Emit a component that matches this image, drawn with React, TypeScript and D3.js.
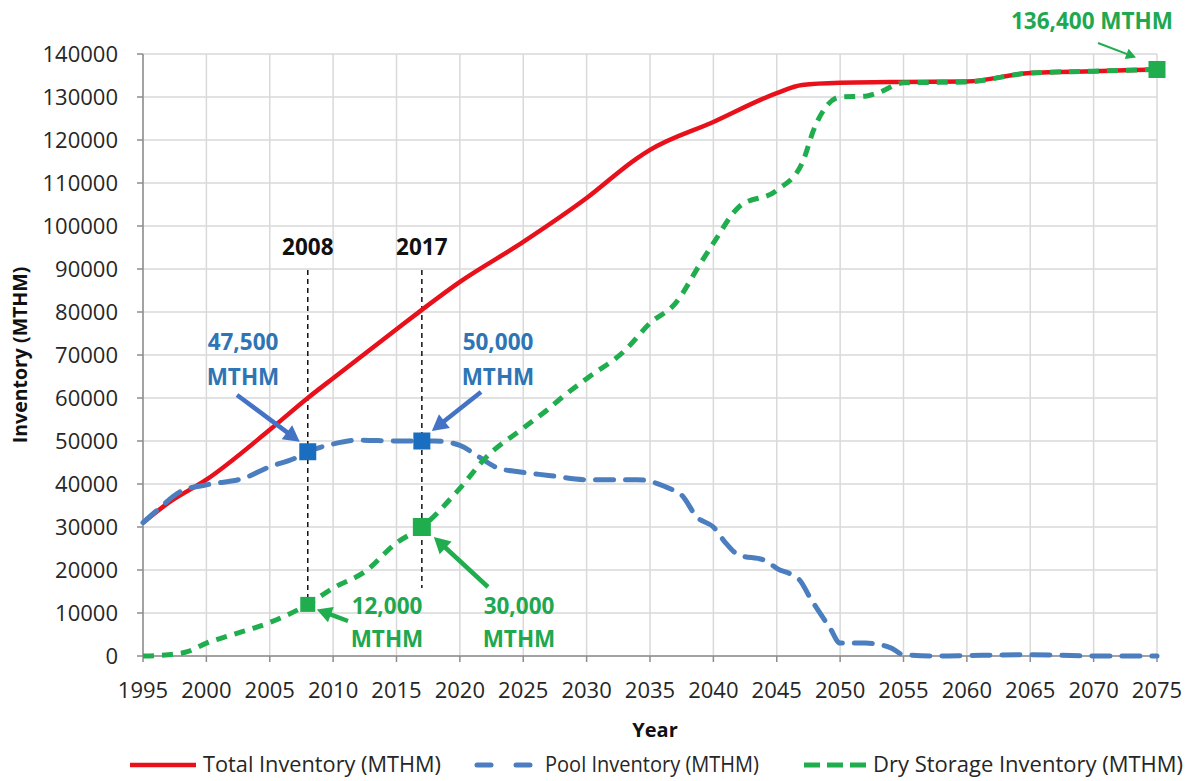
import React from "react";
import * as d3 from "d3";

const xTicks = [1995, 2000, 2005, 2010, 2015, 2020, 2025, 2030, 2035, 2040, 2045, 2050, 2055, 2060, 2065, 2070, 2075];
const yTicks = [0, 10000, 20000, 30000, 40000, 50000, 60000, 70000, 80000, 90000, 100000, 110000, 120000, 130000, 140000];

const totalYears = [1995, 1997, 2000, 2005, 2008, 2010, 2015, 2017, 2020, 2025, 2030, 2034, 2035, 2040, 2045, 2047, 2050, 2055, 2060, 2065, 2070, 2075];
const totalValues = [31000, 35600, 41000, 52600, 60000, 64600, 76000, 80500, 87000, 96300, 106500, 115800, 117700, 124200, 130900, 132800, 133300, 133500, 133600, 135600, 136000, 136400];

const poolYears = [1995, 1996, 1998, 2000, 2003, 2005, 2007, 2008, 2010, 2012, 2015, 2017, 2018, 2020, 2021.5, 2023, 2024.5, 2027, 2030, 2034, 2036.5, 2037.5, 2038.7, 2040, 2041, 2042, 2044, 2045, 2046.8, 2047.6, 2049.2, 2050, 2052, 2054, 2055, 2058, 2060, 2065, 2070, 2075];
const poolValues = [31000, 33600, 38300, 39800, 41400, 44000, 46000, 47500, 49300, 50200, 50000, 50000, 50000, 49000, 46300, 43700, 42900, 42000, 41000, 41000, 39000, 37400, 32300, 30000, 26200, 23500, 22300, 20400, 17700, 13700, 6500, 3000, 3000, 1900, 300, 0, 100, 300, 0, 0];

const dryYears = [1995, 1997, 1998.5, 2000, 2002, 2005, 2008, 2010, 2012.5, 2015, 2017, 2020, 2022, 2025, 2027, 2028, 2030, 2033, 2035, 2037, 2039, 2040, 2042, 2045, 2047, 2048, 2050, 2052, 2053, 2055, 2060, 2065, 2070, 2075];
const dryValues = [0, 300, 1000, 3000, 4900, 7800, 12000, 15800, 19600, 26300, 30000, 39000, 46000, 53000, 57500, 60000, 64500, 71000, 77400, 82000, 91400, 96000, 104400, 108300, 114600, 123000, 130000, 130200, 131000, 133300, 133500, 135600, 136000, 136400];

const markerYears = [2008, 2017];
const poolMarkerValues = [47500, 50000];
const dryMarkerValues = [12000, 30000];
const endYear = 2075;
const endValue = 136400;

const legendLabels = ["Total Inventory (MTHM)", "Pool Inventory (MTHM)", "Dry Storage Inventory (MTHM)"];

const RED = "#e8101a";
const BLUE = "#4a7ebf";
const GREEN = "#1fad4e";
const BLUE_TXT = "#2e75b6";
const BLUE_MK = "#1a6ec0";
const GREEN_TXT = "#20a850";
const FONT = "'Open Sans', 'Noto Sans', sans-serif";

const x = d3.scaleLinear().domain([1995, 2075]).range([143, 1157]);
const y = d3.scaleLinear().domain([0, 140000]).range([656, 54]);

function mkLine(xs: number[], vs: number[]) {
  const pts: [number, number][] = xs.map((v, i) => [v, vs[i]]);
  return d3
    .line<[number, number]>()
    .x((d) => x(d[0]))
    .y((d) => y(d[1]))
    .curve(d3.curveMonotoneX)(pts) as string;
}

function Arrow({ x1, y1, x2, y2, color, w, head }: { x1: number; y1: number; x2: number; y2: number; color: string; w: number; head: number }) {
  const ang = Math.atan2(y2 - y1, x2 - x1);
  const bx = x2 - head * Math.cos(ang);
  const by = y2 - head * Math.sin(ang);
  const px = -Math.sin(ang) * head * 0.55;
  const py = Math.cos(ang) * head * 0.55;
  return (
    <g>
      <line x1={x1} y1={y1} x2={bx + Math.cos(ang) * 2} y2={by + Math.sin(ang) * 2} stroke={color} strokeWidth={w} />
      <polygon points={`${x2},${y2} ${bx + px},${by + py} ${bx - px},${by - py}`} fill={color} />
    </g>
  );
}

export default function App() {
  const plotL = x(1995), plotR = x(2075), plotT = y(140000), plotB = y(0);
  const sq = (cx: number, cy: number, s: number, c: string, k: string) => (
    <rect key={k} x={cx - s / 2} y={cy - s / 2} width={s} height={s} fill={c} />
  );
  const legendY = 765;
  const AF = 22.5;
  return (
    <svg width={1204} height={781} style={{ position: "absolute", left: 0, top: 0, background: "#fff" }} fontFamily={FONT}>
      <rect x={0} y={0} width={1204} height={781} fill="#fff" />
      {/* grid */}
      {yTicks.map((t) => (
        <line key={"gy" + t} x1={plotL} x2={plotR} y1={y(t)} y2={y(t)} stroke="#d9d9d9" strokeWidth={1.5} />
      ))}
      {xTicks.map((t) => (
        <line key={"gx" + t} x1={x(t)} x2={x(t)} y1={plotT} y2={plotB} stroke="#d9d9d9" strokeWidth={1.5} />
      ))}
      {/* axes */}
      <line x1={plotL} x2={plotL} y1={plotT} y2={plotB} stroke="#8c8c8c" strokeWidth={1.5} />
      <line x1={plotL} x2={plotR} y1={plotB} y2={plotB} stroke="#8c8c8c" strokeWidth={1.5} />
      {yTicks.map((t) => (
        <g key={"ty" + t}>
          <line x1={plotL - 6} x2={plotL} y1={y(t)} y2={y(t)} stroke="#8c8c8c" strokeWidth={1.5} />
          <text x={118} y={y(t) + 7.5} textAnchor="end" fontSize={22} fill="#262626">{t}</text>
        </g>
      ))}
      {xTicks.map((t) => (
        <g key={"tx" + t}>
          <line x1={x(t)} x2={x(t)} y1={plotB} y2={plotB + 6} stroke="#8c8c8c" strokeWidth={1.5} />
          <text x={x(t)} y={698} textAnchor="middle" fontSize={22} fill="#262626">{t}</text>
        </g>
      ))}
      <text x={655} y={737} textAnchor="middle" fontSize={20} fontWeight="bold" fill="#111">Year</text>
      <text transform={`translate(27,${(plotT + plotB) / 2}) rotate(-90)`} textAnchor="middle" fontSize={19.5} fontWeight="bold" fill="#111">Inventory (MTHM)</text>

      {/* reference dashed lines */}
      {markerYears.map((yr, i) => (
        <g key={"ref" + yr}>
          <line x1={x(yr)} x2={x(yr)} y1={270} y2={i === 0 ? y(dryMarkerValues[0]) : 588} stroke="#111" strokeWidth={1.5} strokeDasharray="5,4" />
          <text x={x(yr)} y={255} textAnchor="middle" fontSize={AF} fontWeight="bold" fill="#111">{yr}</text>
        </g>
      ))}

      {/* series */}
      <path d={mkLine(totalYears, totalValues)} fill="none" stroke={RED} strokeWidth={4.5} strokeLinejoin="round" />
      <path d={mkLine(poolYears, poolValues)} fill="none" stroke={BLUE} strokeWidth={5} strokeDasharray="18,12" strokeLinecap="round" />
      <path d={mkLine(dryYears, dryValues)} fill="none" stroke={GREEN} strokeWidth={5} strokeDasharray="11,8" />

      {/* markers */}
      {markerYears.map((yr, i) => sq(x(yr), y(poolMarkerValues[i]), 17, BLUE_MK, "pm" + yr))}
      {markerYears.map((yr, i) => sq(x(yr), y(dryMarkerValues[i]), i === 0 ? 15 : 18, GREEN, "dm" + yr))}
      {sq(x(endYear), y(endValue), 17, GREEN, "end")}

      {/* annotations */}
      <text x={243} y={350} textAnchor="middle" fontSize={AF} fontWeight="bold" fill={BLUE_TXT}>47,500</text>
      <text x={243} y={385} textAnchor="middle" fontSize={AF} fontWeight="bold" fill={BLUE_TXT}>MTHM</text>
      <Arrow x1={237} y1={395} x2={x(2008) - 8} y2={y(47500) - 10} color="#4472c4" w={4.5} head={16} />

      <text x={498} y={350} textAnchor="middle" fontSize={AF} fontWeight="bold" fill={BLUE_TXT}>50,000</text>
      <text x={498} y={385} textAnchor="middle" fontSize={AF} fontWeight="bold" fill={BLUE_TXT}>MTHM</text>
      <Arrow x1={481} y1={392} x2={x(2017) + 10} y2={y(50000) - 10} color="#4472c4" w={4.5} head={16} />

      <text x={387} y={614} textAnchor="middle" fontSize={AF} fontWeight="bold" fill={GREEN_TXT}>12,000</text>
      <text x={387} y={647} textAnchor="middle" fontSize={AF} fontWeight="bold" fill={GREEN_TXT}>MTHM</text>
      <Arrow x1={348} y1={621} x2={x(2008) + 9} y2={y(12000) + 5} color={GREEN} w={4.5} head={15} />

      <text x={519} y={614} textAnchor="middle" fontSize={AF} fontWeight="bold" fill={GREEN_TXT}>30,000</text>
      <text x={519} y={647} textAnchor="middle" fontSize={AF} fontWeight="bold" fill={GREEN_TXT}>MTHM</text>
      <Arrow x1={488} y1={587} x2={x(2017) + 12} y2={y(30000) + 10} color={GREEN} w={4.5} head={16} />

      <text x={1092} y={29} textAnchor="middle" fontSize={AF} fontWeight="bold" fill={GREEN_TXT}>136,400 MTHM</text>
      <Arrow x1={1098} y1={43} x2={x(2075) - 21} y2={y(136400) - 12} color={GREEN} w={2} head={10} />

      {/* legend */}
      <line x1={130} x2={196} y1={legendY} y2={legendY} stroke={RED} strokeWidth={4.5} />
      <text x={203} y={legendY + 7} fontSize={21} fill="#262626" textLength={238} lengthAdjust="spacingAndGlyphs">{legendLabels[0]}</text>
      <line x1={477} x2={530} y1={legendY} y2={legendY} stroke={BLUE} strokeWidth={5} strokeDasharray="14,25" strokeLinecap="round" />
      <text x={545} y={legendY + 7} fontSize={21} fill="#262626" textLength={214} lengthAdjust="spacingAndGlyphs">{legendLabels[1]}</text>
      <line x1={804} x2={866} y1={legendY} y2={legendY} stroke={GREEN} strokeWidth={5} strokeDasharray="16,7" />
      <text x={873} y={legendY + 7} fontSize={21} fill="#262626" textLength={310} lengthAdjust="spacingAndGlyphs">{legendLabels[2]}</text>
    </svg>
  );
}
